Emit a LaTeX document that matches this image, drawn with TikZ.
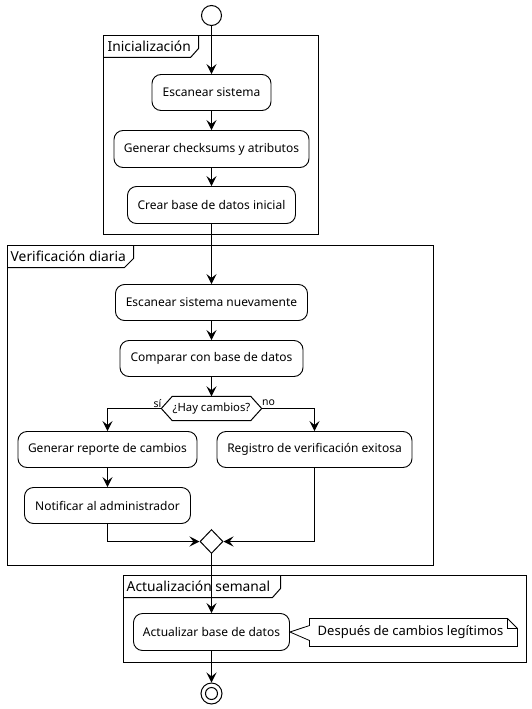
\documentclass[tikz,border=0pt]{standalone}
\usepackage{fontspec}
\setmainfont{Noto Sans}
\usetikzlibrary{arrows.meta,shapes.geometric}
\tikzset{
  act/.style={draw, rounded corners=9pt, line width=0.9pt, inner sep=0pt, align=center, font=\fontsize{12}{14}\selectfont},
  flow/.style={line width=1pt, -{Stealth[length=10pt,width=10pt,inset=4pt]}},
  line/.style={line width=1pt},
  frame/.style={line width=1pt},
  ptitle/.style={anchor=west, inner sep=0pt, font=\fontsize{13.8}{15}\selectfont},
  lbl/.style={inner sep=0pt, font=\fontsize{10.5}{12}\selectfont},
}
\begin{document}
\begin{tikzpicture}[x=1pt,y=-1pt]
\useasboundingbox[fill=white] (-0.5,-0.5) rectangle (530.5,708.5);
% partitions
\draw[frame] (103,35) rectangle (318,234);
\draw[frame] (103,57) -- (190,57) -- (198,48) -- (198,35);
\node[ptitle] (t1) at (107,46) {Inicialización};
\draw[frame] (7,245) rectangle (433,565);
\draw[frame] (7,267) -- (124,267) -- (133,258) -- (133,245);
\node[ptitle] (t2) at (10,256) {Verificación diaria};
\draw[frame] (123,575) rectangle (526,662);
\draw[frame] (123,597) -- (272,597) -- (280,588) -- (280,575);
\node[ptitle] (t3) at (126,586) {Actualización semanal};
% nodes
\node[draw, circle, line width=1pt, minimum size=20pt, inner sep=0pt] (start) at (211,15) {};
\node[act, minimum width=119pt, minimum height=36pt] (s1) at (211,92) {Escanear sistema};
\node[act, minimum width=195pt, minimum height=37pt] (s2) at (211,148.5) {Generar checksums y atributos};
\node[act, minimum width=168pt, minimum height=37pt] (s3) at (211,204.5) {Crear base de datos inicial};
\node[act, minimum width=192pt, minimum height=36pt] (v1) at (211,302) {Escanear sistema nuevamente};
\node[act, minimum width=183pt, minimum height=36pt] (v2) at (211,358) {Comparar con base de datos};
\node[inner sep=0pt, minimum width=100pt, minimum height=24pt, font=\fontsize{11.3}{13}\selectfont] (dec) at (211,408) {¿Hay cambios?};
\draw[line] (dec.west) -- ([xshift=11pt]dec.north west) -- ([xshift=-11pt]dec.north east) -- (dec.east) -- ([xshift=-11pt]dec.south east) -- ([xshift=11pt]dec.south west) -- cycle;
\node[act, minimum width=179pt, minimum height=36pt] (g1) at (107,449) {Generar reporte de cambios};
\node[act, minimum width=195pt, minimum height=36pt] (r1) at (314,449) {Registro de verificación exitosa};
\node[act, minimum width=166pt, minimum height=36pt] (n1) at (107,505) {Notificar al administrador};
\node[draw, diamond, line width=1pt, minimum width=23pt, minimum height=24pt, inner sep=0pt] (merge) at (211,541) {};
\node[act, minimum width=156pt, minimum height=37pt] (a1) at (211,631.5) {Actualizar base de datos};
\node[inner sep=0pt, font=\fontsize{13}{15}\selectfont] (note) at (410,632) {Después de cambios legítimos};
\draw[line width=0.8pt] (309,618) -- (507,618) -- (517,628) -- (517,646) -- (309,646) -- (309,640) -- (a1.east) -- (309,625) -- cycle;
\draw[line width=0.8pt] (507,618) -- (507,628) -- (517,628);
\node[draw, circle, line width=1pt, minimum size=21pt, inner sep=0pt] (end) at (211,693) {};
\node[draw, circle, line width=1pt, minimum size=12pt, inner sep=0pt] (endi) at (211,693) {};
% labels
\node[lbl] (si) at (157,403) {sí};
\node[lbl] (no) at (268,402.5) {no};
% connectors
\draw[flow] (start.south) -- (s1.north);
\draw[flow] (s1.south) -- (s2.north);
\draw[flow] (s2.south) -- (s3.north);
\draw[flow] (s3.south) -- (v1.north);
\draw[flow] (v1.south) -- (v2.north);
\draw[flow] (v2.south) -- (v2.south |- dec.north);
\draw[flow] (dec.west) -| (g1.north);
\draw[flow] (dec.east) -| (r1.north);
\draw[flow] (g1.south) -- (g1.south |- n1.north);
\draw[flow] (n1.south) |- (merge.west);
\draw[flow] (r1.south) |- (merge.east);
\draw[flow] (merge.south) -- (merge.south |- a1.north);
\draw[flow] (a1.south) -- (end.north);
\end{tikzpicture}
\end{document}
